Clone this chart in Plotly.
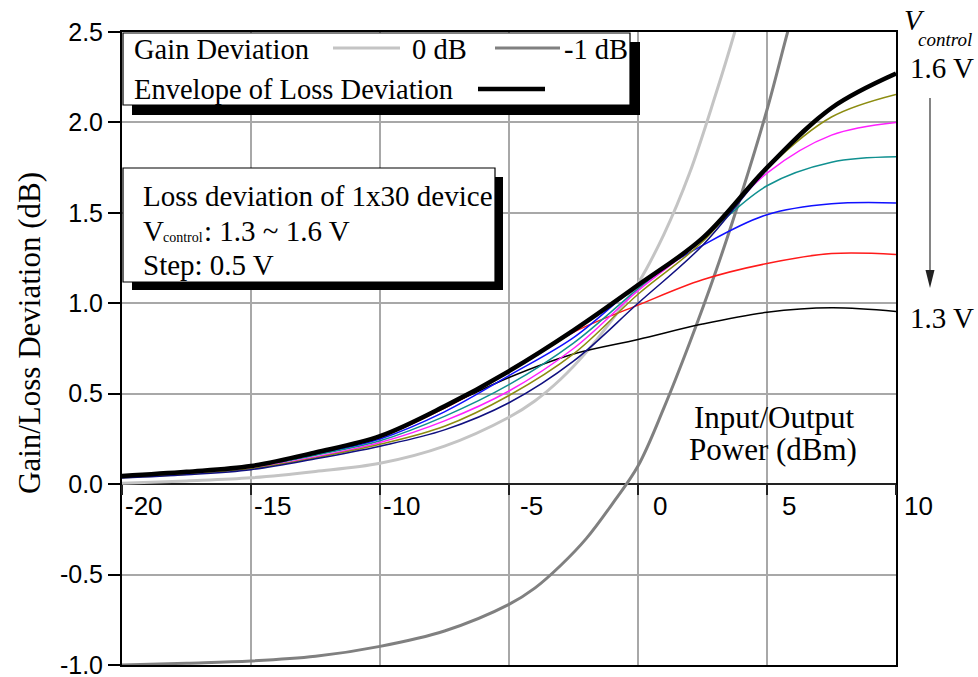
import plotly.graph_objects as go

# ---------------- data ----------------
# input/output power grid (dBm) for the loss-deviation family
P_LOSS = [-20, -17.5, -15, -12.5, -10, -7.5, -5, -2.5, 0, 2.5, 5, 7.5, 10]

V_LABELS = ["1.30 V", "1.35 V", "1.40 V", "1.45 V", "1.50 V", "1.55 V", "1.60 V"]
LOSS_130 = [0.045, 0.068, 0.100, 0.175, 0.265, 0.425, 0.590, 0.720, 0.800, 0.885, 0.950, 0.975, 0.955]
LOSS_135 = [0.044, 0.066, 0.098, 0.170, 0.260, 0.420, 0.620, 0.840, 0.990, 1.130, 1.220, 1.275, 1.270]
LOSS_140 = [0.042, 0.063, 0.095, 0.165, 0.250, 0.400, 0.600, 0.810, 1.100, 1.320, 1.490, 1.550, 1.555]
LOSS_145 = [0.040, 0.060, 0.090, 0.160, 0.240, 0.375, 0.550, 0.780, 1.080, 1.360, 1.650, 1.780, 1.810]
LOSS_150 = [0.038, 0.058, 0.088, 0.150, 0.230, 0.350, 0.515, 0.750, 1.070, 1.355, 1.720, 1.930, 2.000]
LOSS_155 = [0.036, 0.055, 0.085, 0.145, 0.220, 0.320, 0.490, 0.720, 1.050, 1.340, 1.745, 2.030, 2.155]
LOSS_160 = [0.034, 0.052, 0.080, 0.140, 0.210, 0.300, 0.450, 0.680, 1.000, 1.320, 1.740, 2.080, 2.270]
ENVELOPE = [0.045, 0.068, 0.100, 0.175, 0.265, 0.430, 0.625, 0.850, 1.100, 1.360, 1.750, 2.080, 2.270]

# gain deviation curves
P_GAIN0 = [-20, -17.5, -15, -12.5, -10, -7.5, -5, -4, -3, -2, -1, 0, 1, 2, 3, 3.75, 4]
GAIN_0DB = [0.005, 0.018, 0.035, 0.07, 0.115, 0.21, 0.37, 0.46, 0.58, 0.73, 0.91, 1.11, 1.38, 1.72, 2.15, 2.5, 2.63]
P_GAIN1 = [-20, -17.5, -15, -12.5, -10, -7.5, -5, -4, -3, -2, -1, 0, 1, 2, 3, 4, 5, 5.8, 6.1]
GAIN_M1DB = [-1.0, -0.99, -0.978, -0.952, -0.897, -0.812, -0.665, -0.575, -0.45, -0.30, -0.11, 0.10,
             0.42, 0.78, 1.17, 1.60, 2.07, 2.50, 2.65]

X_TICKS = [-20, -15, -10, -5, 0, 5, 10]
X_TICK_TEXT = ["-20", "-15", "-10", "-5", "0", "5", "10"]
Y_TICKS = [-1.0, -0.5, 0.0, 0.5, 1.0, 1.5, 2.0, 2.5]
Y_TICK_TEXT = ["-1.0", "-0.5", "0.0", "0.5", "1.0", "1.5", "2.0", "2.5"]
X_RANGE = [-20, 10]
Y_RANGE = [-1.0, 2.5]

LOSS_SERIES = [LOSS_130, LOSS_135, LOSS_140, LOSS_145, LOSS_150, LOSS_155, LOSS_160]
LOSS_COLORS = ["#000000", "#ff1a1a", "#1010ff", "#109090", "#ff20ff", "#8c8c10", "#101080"]

# ---------------- geometry helpers ----------------
W, H = 978, 677
L, R, T, B = 122, 896, 32, 665


def px(x):
    return (x - L) / (R - L)


def py(y):
    return (B - y) / (B - T)


SERIF = "Liberation Serif, Times New Roman, serif"
SANS = "Liberation Sans, Arial, sans-serif"
GRID = "#a8a8a8"
TXT = 28.5

fig = go.Figure()

fig.add_trace(go.Scatter(x=P_GAIN0, y=GAIN_0DB, mode="lines", name="0 dB",
                         line=dict(color="#c4c4c4", width=3, shape="spline")))
fig.add_trace(go.Scatter(x=P_GAIN1, y=GAIN_M1DB, mode="lines", name="-1 dB",
                         line=dict(color="#808080", width=3, shape="spline")))

for name, ys, col in zip(V_LABELS, LOSS_SERIES, LOSS_COLORS):
    fig.add_trace(go.Scatter(x=P_LOSS, y=ys, mode="lines", name=name,
                             line=dict(color=col, width=1.5, shape="spline")))

# envelope lives on the overlaid axis so it is drawn on top
fig.add_trace(go.Scatter(x=P_LOSS, y=ENVELOPE, mode="lines", name="Envelope",
                         xaxis="x2", line=dict(color="black", width=4.5, shape="spline")))

zero_pos = (0 - Y_RANGE[0]) / (Y_RANGE[1] - Y_RANGE[0])

fig.update_layout(
    width=W, height=H,
    margin=dict(l=L, r=W - R, t=T, b=H - B, autoexpand=False),
    paper_bgcolor="white", plot_bgcolor="white",
    showlegend=False,
    xaxis=dict(range=X_RANGE, tickvals=X_TICKS, showticklabels=False, ticks="",
               showgrid=True, gridcolor=GRID, gridwidth=1.5, zeroline=False,
               showline=True, linecolor="black", linewidth=2, mirror=True,
               automargin=False),
    # secondary x axis sitting on the y = 0 line: carries the tick marks only
    xaxis2=dict(range=X_RANGE, overlaying="x", anchor="free", position=zero_pos,
                side="bottom", tickvals=X_TICKS, showticklabels=False,
                ticks="outside", ticklen=10, tickwidth=2, tickcolor="#222222",
                showgrid=False, zeroline=False, showline=False, automargin=False),
    yaxis=dict(range=Y_RANGE, tickvals=Y_TICKS, ticktext=Y_TICK_TEXT,
               ticks="outside", ticklen=12, tickwidth=1.5, tickcolor="black",
               showgrid=True, gridcolor=GRID, gridwidth=1.5,
               zeroline=True, zerolinecolor="#222222", zerolinewidth=2,
               showline=True, linecolor="black", linewidth=2, mirror=True,
               automargin=False, ticklabeloverflow="allow",
               tickfont=dict(family=SANS, size=25, color="black")),
)

shapes = []
annots = []

# power tick labels, set just right of each tick below the zero line
for xv, txt in zip(X_TICKS, X_TICK_TEXT):
    annots.append(dict(text=txt, xref="x", yref="y", x=xv, y=0,
                       xanchor="center", yanchor="middle", xshift=22, yshift=-22,
                       showarrow=False, font=dict(family=SANS, size=26, color="black")))

# legend box for gain / envelope
shapes.append(dict(type="rect", xref="paper", yref="paper",
                   x0=px(132), x1=px(640), y0=py(115), y1=py(42),
                   fillcolor="black", line=dict(width=0), layer="above"))
shapes.append(dict(type="rect", xref="paper", yref="paper",
                   x0=px(123), x1=px(630), y0=py(105), y1=py(33),
                   fillcolor="white", line=dict(color="black", width=1.2), layer="above"))
for x0, x1, yy, col, wd in [(333, 400, 48, "#c4c4c4", 3), (495, 560, 48, "#808080", 3),
                            (478, 545, 89, "black", 4.5)]:
    shapes.append(dict(type="line", xref="paper", yref="paper",
                       x0=px(x0), x1=px(x1), y0=py(yy), y1=py(yy),
                       line=dict(color=col, width=wd), layer="above"))

for txt, xl, yc in [("Gain Deviation", 132, 49), ("0 dB", 410, 49), ("-1 dB", 562, 49),
                    ("Envelope of Loss Deviation", 132, 89)]:
    annots.append(dict(text=txt, xref="paper", yref="paper", x=px(xl), y=py(yc),
                       xanchor="left", yanchor="middle", showarrow=False,
                       font=dict(family=SERIF, size=TXT, color="black")))

# description box
shapes.append(dict(type="rect", xref="paper", yref="paper",
                   x0=px(132), x1=px(503), y0=py(290), y1=py(177),
                   fillcolor="black", line=dict(width=0), layer="above"))
shapes.append(dict(type="rect", xref="paper", yref="paper",
                   x0=px(123), x1=px(495), y0=py(282), y1=py(168),
                   fillcolor="white", line=dict(color="black", width=1.2), layer="above"))
for txt, xl, yc, size in [("Loss deviation of 1x30 device", 141, 196, 29),
                          ("V", 141, 231, 29),
                          ("control", 161, 237, 14),
                          (": 1.3 ~ 1.6 V", 202, 231, 29),
                          ("Step: 0.5 V", 141, 265, 29)]:
    annots.append(dict(text=txt, xref="paper", yref="paper", x=px(xl), y=py(yc),
                       xanchor="left", yanchor="middle", showarrow=False,
                       font=dict(family=SERIF, size=size, color="black")))

# axis captions
annots.append(dict(text="Gain/Loss Deviation (dB)", xref="paper", yref="paper",
                   x=px(30), y=py(333), textangle=-90, showarrow=False,
                   xanchor="center", yanchor="middle",
                   font=dict(family=SERIF, size=31, color="black")))
annots.append(dict(text="Input/Output", xref="paper", yref="paper", x=px(774), y=py(417),
                   xanchor="center", yanchor="middle", showarrow=False,
                   font=dict(family=SERIF, size=31, color="black")))
annots.append(dict(text="Power (dBm)", xref="paper", yref="paper", x=px(773), y=py(449),
                   xanchor="center", yanchor="middle", showarrow=False,
                   font=dict(family=SERIF, size=31, color="black")))

# control-voltage labels on the right
annots.append(dict(text="<i>V</i>", xref="paper", yref="paper", x=px(902), y=py(20),
                   xanchor="left", yanchor="middle", showarrow=False,
                   font=dict(family=SERIF, size=29, color="black")))
annots.append(dict(text="<i>control</i>", xref="paper", yref="paper", x=px(916), y=py(39),
                   xanchor="left", yanchor="middle", showarrow=False,
                   font=dict(family=SERIF, size=19, color="black")))
annots.append(dict(text="1.6 V", xref="paper", yref="paper", x=px(908), y=py(68),
                   xanchor="left", yanchor="middle", showarrow=False,
                   font=dict(family=SERIF, size=29, color="black")))
annots.append(dict(text="1.3 V", xref="paper", yref="paper", x=px(908), y=py(318),
                   xanchor="left", yanchor="middle", showarrow=False,
                   font=dict(family=SERIF, size=29, color="black")))

# downward arrow from 1.6 V to 1.3 V
shapes.append(dict(type="line", xref="paper", yref="paper",
                   x0=px(930), x1=px(930), y0=py(98), y1=py(272),
                   line=dict(color="#333333", width=1.2), layer="above"))
shapes.append(dict(type="path", xref="paper", yref="paper",
                   path=f"M {px(925.5)},{py(270)} L {px(934.5)},{py(270)} L {px(930)},{py(288)} Z",
                   fillcolor="#222222", line=dict(width=0), layer="above"))

fig.update_layout(shapes=shapes, annotations=annots)

fig.write_html("out.html")
